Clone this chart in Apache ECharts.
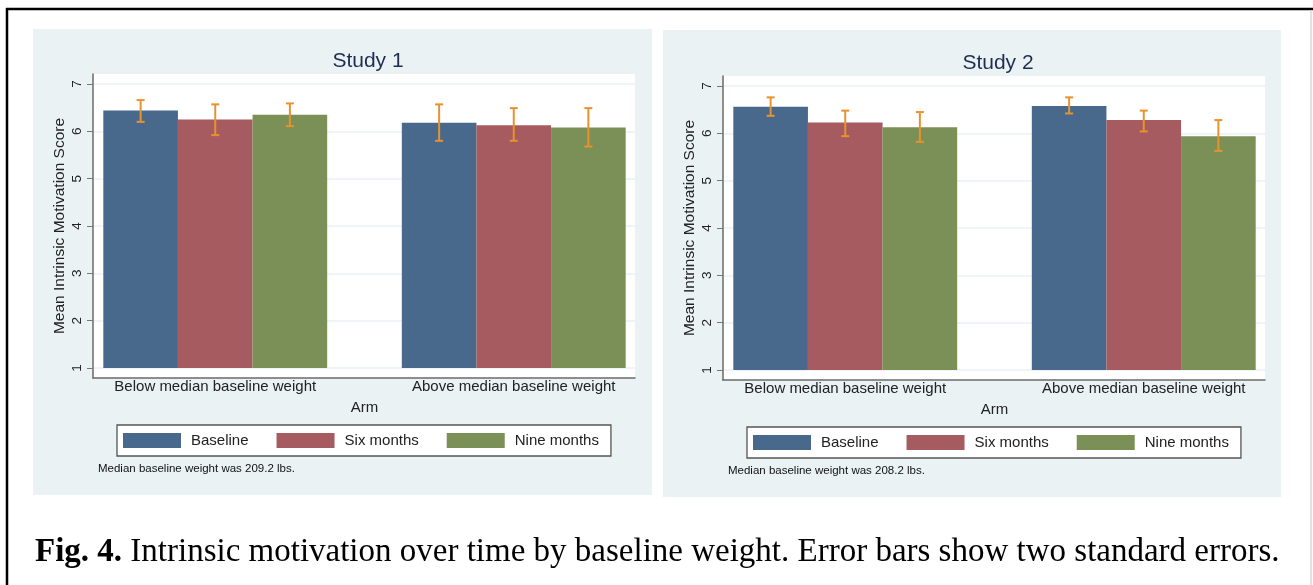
<!DOCTYPE html>
<html>
<head>
<meta charset="utf-8">
<script src="https://cdn.jsdelivr.net/npm/echarts@6/dist/echarts.min.js"></script>
<style>
  html, body { margin: 0; padding: 0; background: #fff; }
  #chart { width: 1313px; height: 585px; }
</style>
</head>
<body>
<div id="chart"></div>
<script>
// categories and series
const categories = ['Below median baseline weight', 'Above median baseline weight']
const seriesNames = ['Baseline', 'Six months', 'Nine months']

// Study 1 means and +/- 2 SE
const study1Baseline = [6.44, 6.18]
const study1SixMonths = [6.25, 6.13]
const study1NineMonths = [6.35, 6.08]
const study1BaselineCI = [[6.20, 6.66], [5.80, 6.57]]
const study1SixMonthsCI = [[5.92, 6.57], [5.80, 6.49]]
const study1NineMonthsCI = [[6.11, 6.59], [5.68, 6.49]]

// Study 2 means and +/- 2 SE
const study2Baseline = [6.56, 6.58]
const study2SixMonths = [6.23, 6.28]
const study2NineMonths = [6.13, 5.94]
const study2BaselineCI = [[6.37, 6.76], [6.42, 6.76]]
const study2SixMonthsCI = [[5.94, 6.48], [6.04, 6.48]]
const study2NineMonthsCI = [[5.82, 6.45], [5.63, 6.28]]

const yMin = 1
const yMax = 7
const yStep = 1

const barColors = ['#48698b', '#a55b60', '#7a9057']
const errColor = '#e8922e'
const panelBg = '#eaf2f3'
const font = "'Liberation Sans', Arial, sans-serif"
const serif = "'Liberation Serif', 'Times New Roman', serif"

let chart = echarts.init(document.getElementById('chart'))

let grid = []
let xAxis = []
let yAxis = []
let series = []
let title = []
let legend = []

function errorBarItem (params, api) {
  let cat = api.value(0)
  let k = api.value(1)
  let lo = api.coord([cat, api.value(2)])
  let hi = api.coord([cat, api.value(3)])
  let band = api.size([1, 0])[0]
  let bw = band * 0.75 / 3
  let x = lo[0] + (k - 1) * bw
  let cap = 4
  let st = { stroke: errColor, lineWidth: 2 }
  return {
    type: 'group',
    children: [
      { type: 'line', shape: { x1: x, y1: hi[1], x2: x, y2: lo[1] }, style: st },
      { type: 'line', shape: { x1: x - cap, y1: hi[1], x2: x + cap, y2: hi[1] }, style: st },
      { type: 'line', shape: { x1: x - cap, y1: lo[1], x2: x + cap, y2: lo[1] }, style: st }
    ]
  }
}

function addPanel (p, name, means, cis) {
  let dx = p * 630
  let dy = p * 2
  let g = p * 3
  // white plot region with axis lines
  grid.push({ left: 93 + dx, top: 74 + dy, width: 542, height: 304, show: true, backgroundColor: '#fff', borderWidth: 0 })
  // grid lines, y ticks and labels
  grid.push({ left: 93 + dx, top: 84 + dy, width: 542, height: 284 })
  // bars
  grid.push({ left: 66 + dx, top: 84 + dy, width: 597, height: 284 })

  xAxis.push({
    gridIndex: g, type: 'value', min: 0, max: 1,
    axisLine: { show: true, lineStyle: { color: '#6b6b6b', width: 1.5 } },
    axisTick: { show: false }, axisLabel: { show: false }, splitLine: { show: false }
  })
  yAxis.push({
    gridIndex: g, type: 'value', min: 0, max: 1,
    axisLine: { show: true, lineStyle: { color: '#6b6b6b', width: 1.5 } },
    axisTick: { show: false }, axisLabel: { show: false }, splitLine: { show: false }
  })

  xAxis.push({ gridIndex: g + 1, type: 'value', show: false })
  yAxis.push({
    gridIndex: g + 1, type: 'value', min: yMin, max: yMax, interval: yStep,
    name: 'Mean Intrinsic Motivation Score',
    nameLocation: 'middle',
    nameGap: 25,
    nameTextStyle: { fontFamily: font, fontSize: 15.5, color: '#222' },
    axisLine: { show: false },
    axisTick: { show: true, length: 6, lineStyle: { color: '#777', width: 1 } },
    axisLabel: { rotate: 90, margin: 9, fontFamily: font, fontSize: 13.5, color: '#222' },
    splitLine: { show: true, lineStyle: { color: panelBg, width: 1.5 } }
  })

  xAxis.push({
    gridIndex: g + 2, type: 'category', data: categories,
    name: 'Arm', nameLocation: 'middle', nameGap: 32,
    nameTextStyle: { fontFamily: font, fontSize: 15, color: '#222' },
    axisLine: { show: false }, axisTick: { show: false },
    axisLabel: { margin: 11, fontFamily: font, fontSize: 15, color: '#222' }
  })
  yAxis.push({ gridIndex: g + 2, type: 'value', min: yMin, max: yMax, show: false, splitLine: { show: false } })

  let errData = []
  means.forEach(function (vals, k) {
    series.push({
      name: seriesNames[k],
      type: 'bar',
      xAxisIndex: g + 2,
      yAxisIndex: g + 2,
      data: vals,
      barGap: '0%',
      barCategoryGap: '25%',
      itemStyle: { color: barColors[k] },
      emphasis: { disabled: true },
      animation: false
    })
    cis[k].forEach(function (ci, c) {
      errData.push([c, k, ci[0], ci[1]])
    })
  })
  series.push({
    type: 'custom',
    xAxisIndex: g + 2,
    yAxisIndex: g + 2,
    renderItem: errorBarItem,
    encode: { x: 0, y: [2, 3] },
    data: errData,
    z: 10,
    animation: false
  })

  title.push({
    text: name, left: 363 + dx, top: 46 + dy, textAlign: 'center',
    textStyle: { fontFamily: font, fontSize: 21, fontWeight: 'normal', color: '#1e2d52' }
  })

  legend.push({
    data: seriesNames,
    left: 117 + dx,
    top: 425 + dy,
    orient: 'horizontal',
    backgroundColor: '#fff',
    borderColor: '#555',
    borderWidth: 1.3,
    borderRadius: 0,
    padding: [8, 12, 8, 6],
    itemWidth: 58,
    itemHeight: 15,
    itemGap: 28,
    icon: 'rect',
    selectedMode: false,
    textStyle: { fontFamily: font, fontSize: 15, color: '#222', padding: [0, 0, 0, 5] }
  })
}

addPanel(0, 'Study 1', [study1Baseline, study1SixMonths, study1NineMonths],
  [study1BaselineCI, study1SixMonthsCI, study1NineMonthsCI])
addPanel(1, 'Study 2', [study2Baseline, study2SixMonths, study2NineMonths],
  [study2BaselineCI, study2SixMonthsCI, study2NineMonthsCI])

let option = {
  backgroundColor: '#fff',
  animation: false,
  title: title,
  legend: legend,
  grid: grid,
  xAxis: xAxis,
  yAxis: yAxis,
  series: series,
  graphic: [
    // panel backgrounds
    { type: 'rect', z: -10, shape: { x: 33, y: 29, width: 619, height: 466 }, style: { fill: panelBg } },
    { type: 'rect', z: -10, shape: { x: 663, y: 30, width: 618, height: 467 }, style: { fill: panelBg } },
    // figure frame
    { type: 'line', shape: { x1: 6, y1: 9, x2: 1313, y2: 9 }, style: { stroke: '#000', lineWidth: 2.5 } },
    { type: 'line', shape: { x1: 7, y1: 8, x2: 7, y2: 585 }, style: { stroke: '#000', lineWidth: 2.5 } },
    { type: 'line', shape: { x1: 1311, y1: 10, x2: 1311, y2: 585 }, style: { stroke: '#d8d8d8', lineWidth: 1.5 } },
    // notes
    { type: 'text', x: 98, y: 469, style: { text: 'Median baseline weight was 209.2 lbs.', font: '11.5px ' + font, fill: '#111', verticalAlign: 'middle' } },
    { type: 'text', x: 728, y: 471, style: { text: 'Median baseline weight was 208.2 lbs.', font: '11.5px ' + font, fill: '#111', verticalAlign: 'middle' } },
    // caption
    {
      type: 'text', x: 35, y: 552,
      style: {
        text: '{b|Fig. 4.} Intrinsic motivation over time by baseline weight. Error bars show two standard errors.',
        font: '33px ' + serif,
        fill: '#000',
        verticalAlign: 'middle',
        rich: { b: { fontWeight: 'bold', fontFamily: serif, fontSize: 33 } }
      }
    }
  ]
}

chart.setOption(option)
</script>
</body>
</html>
